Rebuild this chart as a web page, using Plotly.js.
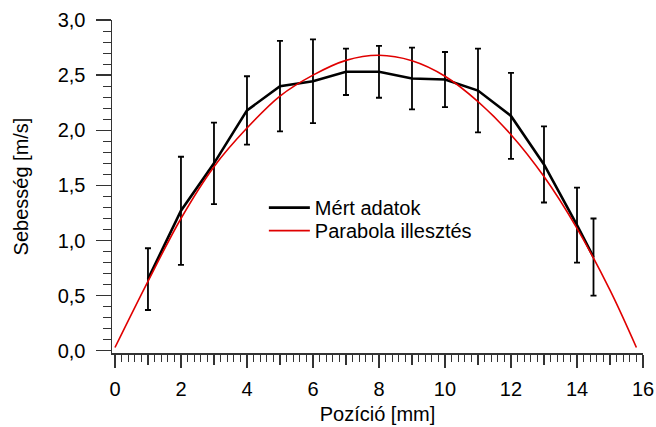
<!DOCTYPE html>
<html>
<head>
<meta charset="utf-8">
<script src="https://cdn.plot.ly/plotly-3.0.1.min.js"></script>
<style>html,body{margin:0;padding:0;background:#fff;}#chart{width:656px;height:427px;}</style>
</head>
<body>
<div id="chart"></div>
<script>
// Measured data (Mért adatok)
const posMeasured = [1, 2, 3, 4, 5, 6, 7, 8, 9, 10, 11, 12, 13, 14, 14.5];
const speedMeasured = [0.65, 1.27, 1.70, 2.18, 2.40, 2.445, 2.53, 2.53, 2.47, 2.46, 2.36, 2.13, 1.69, 1.14, 0.85];
const speedError = [0.28, 0.49, 0.37, 0.31, 0.41, 0.38, 0.21, 0.235, 0.28, 0.25, 0.38, 0.39, 0.345, 0.34, 0.35];

// Parabola fit (Parabola illesztés)
const posFit = [0, 1, 2, 3, 4, 5, 6, 7, 8, 9, 10, 11, 12, 13, 14, 15, 15.8];
const speedFit = [0.03, 0.63, 1.20, 1.67, 2.02, 2.31, 2.50, 2.634, 2.68, 2.63, 2.49, 2.26, 1.96, 1.58, 1.11, 0.55, 0.03];

const xMajorTicks = [0, 2, 4, 6, 8, 10, 12, 14, 16];
const xMidTicks = [1, 3, 5, 7, 9, 11, 13, 15];
const yMajorTicks = [0, 0.5, 1, 1.5, 2, 2.5, 3];

const xTitle = 'Pozíció [mm]';
const yTitle = 'Sebesség [m/s]';
const nameMeasured = 'Mért adatok';
const nameFit = 'Parabola illesztés';

const FONT = 'Liberation Sans, Arial, sans-serif';
const FS = 20;
const AX = '#333333';
const xRange = [-0.09, 16];
const yRange = [-0.02, 3.0];

const legendBase = {
  xanchor: 'left', yanchor: 'top',
  bgcolor: 'rgba(0,0,0,0)', borderwidth: 0,
  font: {family: FONT, size: FS, color: '#000000'},
  itemwidth: 41, tracegroupgap: 0
};

const traces = [
  {
    x: posMeasured, y: speedMeasured, name: nameMeasured, legend: 'legend',
    type: 'scatter', mode: 'lines',
    line: {color: '#000000', width: 2.6},
    error_y: {type: 'data', array: speedError, visible: true, color: '#000000', thickness: 1.8, width: 3}
  },
  {
    x: posFit, y: speedFit, name: nameFit, legend: 'legend2',
    type: 'scatter', mode: 'lines',
    line: {color: '#e00000', width: 1.6, shape: 'spline', smoothing: 1}
  },
  {
    x: [], y: [], xaxis: 'x2', type: 'scatter', mode: 'lines', showlegend: false, hoverinfo: 'skip'
  }
];

const layout = {
  width: 656, height: 427,
  margin: {l: 112, r: 13, t: 20, b: 74},
  paper_bgcolor: '#ffffff', plot_bgcolor: '#ffffff',
  separators: ', ',
  font: {family: FONT, size: FS, color: '#000000'},
  showlegend: true,
  legend: Object.assign({x: 0.286, y: 0.495}, legendBase),
  legend2: Object.assign({x: 0.286, y: 0.426}, legendBase),
  xaxis: {
    range: xRange, showgrid: false, zeroline: false,
    showline: true, linecolor: AX, linewidth: 1.5,
    ticks: 'outside', tickvals: xMajorTicks, ticklen: 13, tickwidth: 1.3, tickcolor: AX,
    tickfont: {family: FONT, size: FS, color: '#000000'},
    ticklabelstandoff: 4,
    minor: {dtick: 0.2, tick0: 0, ticks: 'outside', ticklen: 7, tickwidth: 1, tickcolor: AX, showgrid: false},
    title: {text: xTitle, font: {family: FONT, size: FS, color: '#000000'}, standoff: 8}
  },
  xaxis2: {
    range: xRange, overlaying: 'x', anchor: 'y', side: 'bottom',
    showgrid: false, zeroline: false, showline: false,
    ticks: 'outside', tickvals: xMidTicks, ticklen: 11, tickwidth: 1.2, tickcolor: AX,
    showticklabels: false
  },
  yaxis: {
    range: yRange, showgrid: false, zeroline: false,
    showline: true, linecolor: AX, linewidth: 1.5,
    ticks: 'outside', tickvals: yMajorTicks, ticklen: 15, tickwidth: 1.3, tickcolor: AX,
    tickformat: '.1f',
    tickfont: {family: FONT, size: FS, color: '#000000'},
    ticklabelstandoff: 6,
    minor: {dtick: 0.1, tick0: 0, ticks: 'outside', ticklen: 7.5, tickwidth: 1, tickcolor: AX, showgrid: false},
    title: {text: yTitle, font: {family: FONT, size: FS, color: '#000000'}, standoff: 23}
  }
};

Plotly.newPlot('chart', traces, layout, {displayModeBar: false, staticPlot: true});
</script>
</body>
</html>
